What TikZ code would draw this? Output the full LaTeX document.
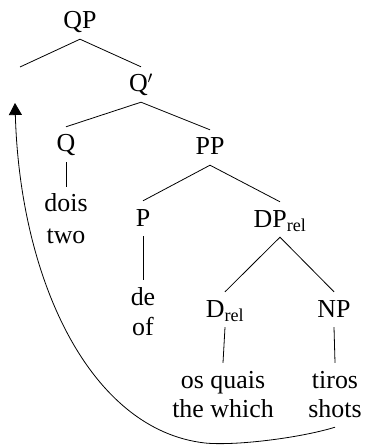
\documentclass[tikz,border=0pt]{standalone}
\usepackage{fontspec}
\setmainfont{Liberation Serif}
\usetikzlibrary{arrows.meta}
\tikzset{>={Triangle[length=12bp,width=13bp]},every node/.style={font=\fontsize{26}{30}\selectfont},cat/.style={anchor=base,text height=15bp,text depth=0pt,inner xsep=0pt,inner ysep=10bp},edge/.style={line width=.8bp},move/.style={line width=.8bp,->}}
\begin{document}
\begin{tikzpicture}[x=1bp,y=-1bp]
\useasboundingbox (0,0) rectangle (364,445);
\node[cat] (QP) at (80,29){QP};\coordinate (gap) at (20,67);\coordinate (trace) at (15,103);
\node[cat] (Qbar) at (141,92){Q$'$};\node[cat] (Q) at (66,152){Q};\node[cat] (PP) at (210,155){PP};
\node[cat] (dois) at (66,212){dois};\node[cat] (two) at (66,243){two};
\node[cat] (P) at (143,226){P};\node[cat] (DPrel) at (280,227){DP\textsubscript{rel}};
\node[cat] (de) at (143,305){de};\node[cat] (of) at (143,335){of};
\node[cat] (Drel) at (225,317){D\textsubscript{rel}};\node[cat] (NP) at (334,317){NP};
\node[cat] (osquais) at (223,388){os quais};\node[cat] (thewhich) at (223,417){the which};
\node[cat] (tiros) at (335,388){tiros};\node[cat] (shots) at (335,417){shots};
\draw[edge] (gap)--(QP.south)--(Qbar.north);\draw[edge] (Q.north)--(Qbar.south)--(PP.north);\draw[edge] (Q.south)--(dois.north);
\draw[edge] (P.north)--(PP.south)--(DPrel.north);\draw[edge] (P.south)--(de.north);
\draw[edge] (Drel.north)--(DPrel.south)--(NP.north);\draw[edge] (Drel.south)--(osquais.north);\draw[edge] (NP.south)--(tiros.north);
\draw[move] (shots.south) .. controls (300,438) and (235,446) .. (205,443) .. controls (90,430) and (20,280) .. (trace);
\end{tikzpicture}
\end{document}
